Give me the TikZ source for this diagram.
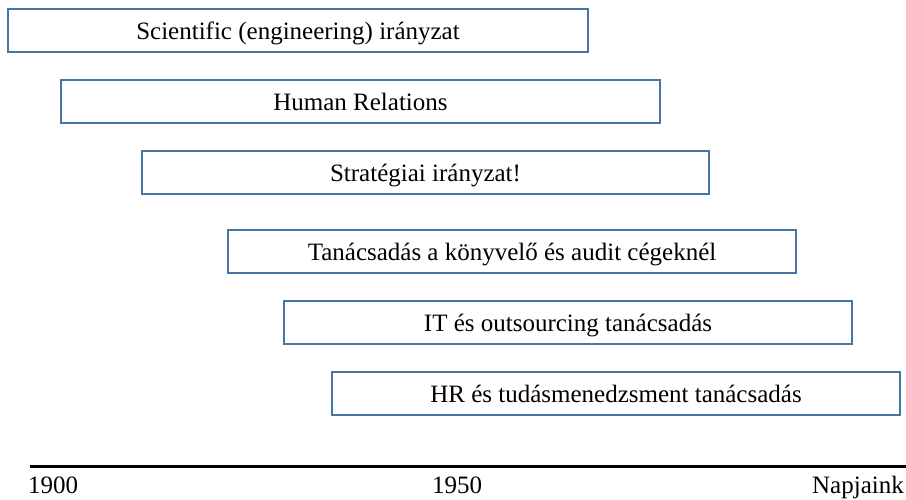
\documentclass[tikz,border=0pt]{standalone}
\usepackage{fontspec}
\setmainfont{Liberation Serif}
\usepackage{xcolor}
\usetikzlibrary{positioning}

\definecolor{boxblue}{RGB}{70,118,166}

\begin{document}
\begin{tikzpicture}[
    x=0.5pt, y=-0.5pt,
    era/.style={
        draw=boxblue,
        line width=1.25pt,
        fill=white,
        font=\fontsize{12.5}{15}\selectfont,
        minimum width=#1*0.5pt,
        minimum height=21.5pt,
        text height=8.5pt, text depth=0pt,
        inner sep=0pt
    },
    year/.style={font=\fontsize{12.5}{15}\selectfont, inner sep=0pt, anchor=base}
]
\useasboundingbox (0,0) rectangle (906,499);

% Eras (boxes)
\node[era=580] (scientific) at (298,30.5) {Scientific (engineering) irányzat};
\node[era=599] (human) at (360.5,101.5) {Human Relations};
\node[era=567] (strategic) at (425.5,172.5) {Stratégiai irányzat!};
\node[era=568] (audit) at (512,251.5) {Tanácsadás a könyvelő és audit cégeknél};
\node[era=568] (it) at (568,322.5) {IT és outsourcing tanácsadás};
\node[era=568] (hr) at (616,393.5) {HR és tudásmenedzsment tanácsadás};

% Time axis
\coordinate (axisstart) at (30,466);
\coordinate (axisend) at (906,466);
\draw[line width=1.5pt] (axisstart) -- (axisend);

\node[year] (y1900) at (53,493) {1900};
\node[year] (y1950) at (457,493) {1950};
\node[year] (today) at (858,493) {Napjaink};

\end{tikzpicture}
\end{document}
